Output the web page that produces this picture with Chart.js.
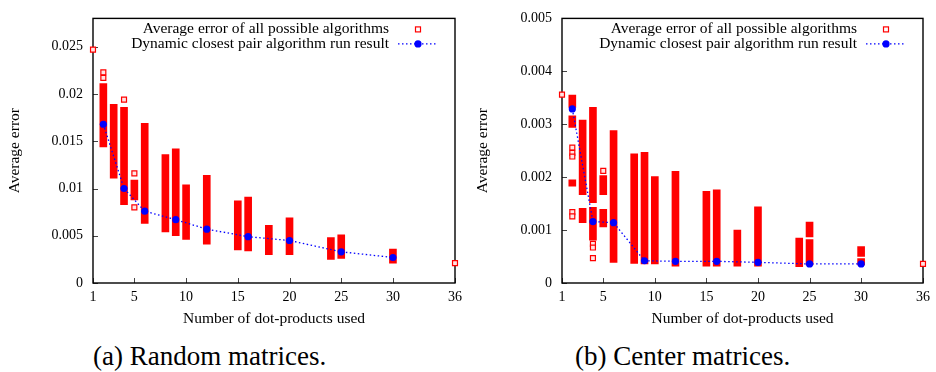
<!DOCTYPE html>
<html><head><meta charset="utf-8">
<script src="https://cdn.jsdelivr.net/npm/chart.js@4.4.1/dist/chart.umd.min.js"></script>
<style>
html,body{margin:0;padding:0;background:#fff;width:936px;height:372px;overflow:hidden;position:relative}
canvas{position:absolute;top:0}
#c1{left:0}
#c2{left:468px}
.cap{position:absolute;top:342px;font-family:"Liberation Serif",serif;font-size:27px;line-height:28px;color:#000;white-space:nowrap}
</style></head><body>
<canvas id="c1" width="468" height="340"></canvas>
<canvas id="c2" width="468" height="340"></canvas>
<div class="cap" style="left:93px">(a) Random matrices.</div>
<div class="cap" style="left:575px">(b) Center matrices.</div>
<script>
// ---- shared axis data ----
const xTicks = [1, 5, 10, 15, 20, 25, 30, 36];
const seriesNames = ['Average error of all possible algorithms', 'Dynamic closest pair algorithm run result'];
const xTitle = 'Number of dot-products used';
const yTitle = 'Average error';

// ---- (a) Random matrices ----
const randomYTicks = [0, 0.005, 0.01, 0.015, 0.02, 0.025];
// [x, low, high] ranges of dense clusters of algorithm errors
const randomColumns = [
  [2, 0.0144, 0.0211], [3, 0.0111, 0.0189], [4, 0.0083, 0.0186], [5, 0.0088, 0.0109],
  [6, 0.0063, 0.0169], [8, 0.0054, 0.0136], [9, 0.0050, 0.0142], [10, 0.0046, 0.0104],
  [12, 0.0041, 0.0114], [15, 0.0035, 0.0087], [16, 0.0034, 0.0091], [18, 0.0030, 0.0061],
  [20, 0.0030, 0.0069], [24, 0.0025, 0.0048], [25, 0.0026, 0.0051], [30, 0.0021, 0.0036]
];
// [x, value] isolated algorithm errors
const randomSingles = [
  [1, 0.0247], [2, 0.0223], [2, 0.0217], [4, 0.0194], [5, 0.0116], [5, 0.0080], [36, 0.0021]
];
const randomDcpX = [2, 4, 6, 9, 12, 16, 20, 25, 30];
const randomDcpY = [0.0168, 0.0100, 0.0076, 0.0067, 0.0057, 0.0049, 0.0045, 0.0033, 0.0027];

// ---- (b) Center matrices ----
const centerYTicks = [0, 0.001, 0.002, 0.003, 0.004, 0.005];
const centerColumns = [
  [2, 0.00332, 0.00355], [2, 0.00294, 0.00316], [2, 0.00183, 0.00195],
  [3, 0.00167, 0.00308], [3, 0.00114, 0.00141],
  [4, 0.00152, 0.00332], [4, 0.00081, 0.00143],
  [5, 0.00167, 0.00203], [5, 0.00106, 0.00139],
  [6, 0.00039, 0.00288], [8, 0.00037, 0.00244], [9, 0.00036, 0.00247], [10, 0.00036, 0.00201],
  [12, 0.00032, 0.00211], [15, 0.00032, 0.00173], [16, 0.00032, 0.00176], [18, 0.00032, 0.00100],
  [20, 0.00032, 0.00144], [24, 0.00031, 0.00085],
  [25, 0.00087, 0.00115], [25, 0.00034, 0.00082],
  [30, 0.00050, 0.00069], [30, 0.00034, 0.00046]
];
const centerSingles = [
  [1, 0.00356], [2, 0.00256], [2, 0.00246], [2, 0.00239], [2, 0.00134], [2, 0.00126],
  [4, 0.00074], [4, 0.00067], [4, 0.00047], [5, 0.00212], [36, 0.00036]
];
const centerDcpX = [2, 4, 6, 9, 12, 16, 20, 25, 30];
const centerDcpY = [0.00329, 0.00116, 0.00114, 0.00042, 0.00041, 0.00041, 0.00039, 0.00036, 0.00036];

// ---- styles ----
const FONT = '"Liberation Serif", "Times New Roman", serif';
const RED = '#ff0000';
const BLUE = '#0000ff';

const framePlugin = {
  id: 'gnuframe',
  beforeDatasetsDraw(chart) {
    const {ctx, chartArea: a, scales} = chart;
    ctx.save();
    ctx.strokeStyle = '#444';
    ctx.lineWidth = 1;
    ctx.beginPath();
    scales.x.ticks.forEach(t => {
      const px = Math.round(scales.x.getPixelForValue(t.value)) + 0.5;
      ctx.moveTo(px, a.bottom); ctx.lineTo(px, a.bottom - 5);
    });
    scales.y.ticks.forEach(t => {
      const py = Math.round(scales.y.getPixelForValue(t.value)) + 0.5;
      ctx.moveTo(a.left, py); ctx.lineTo(a.left + 5, py);
    });
    ctx.stroke();
    ctx.strokeStyle = '#000';
    ctx.lineWidth = 1.4;
    ctx.strokeRect(a.left, a.top, a.right - a.left, a.bottom - a.top);
    ctx.restore();
  },
  afterDraw(chart) {
    const {ctx, chartArea: a} = chart;
    const ds = chart.data.datasets;
    ctx.save();
    ctx.font = '15.5px ' + FONT;
    ctx.fillStyle = '#000';
    ctx.textAlign = 'right';
    ctx.textBaseline = 'middle';
    const tx = a.right - 66, sx = a.right - 37;
    const y1 = a.top + 11, y2 = a.top + 25.5;
    ctx.fillText(ds[1].label, tx, y1);
    ctx.fillText(ds[2].label, tx, y2);
    // square symbol
    ctx.strokeStyle = RED; ctx.lineWidth = 1.2;
    ctx.strokeRect(sx - 2.5, y1 - 2.5, 5, 5);
    // dotted line with dot
    ctx.strokeStyle = BLUE; ctx.lineWidth = 1.3;
    ctx.setLineDash([1.5, 2.5]);
    ctx.beginPath(); ctx.moveTo(sx - 20, y2); ctx.lineTo(sx + 18, y2); ctx.stroke();
    ctx.setLineDash([]);
    ctx.fillStyle = BLUE;
    ctx.beginPath(); ctx.arc(sx, y2, 3.6, 0, Math.PI * 2); ctx.fill();
    ctx.restore();
  }
};

function makeChart(id, columns, singles, lineX, lineY, yMax, yTicks, yAxisWidth, padRight) {
  const tickFont = {family: FONT, size: 14};
  const titleFont = {family: FONT, size: 15.5};
  return new Chart(document.getElementById(id), {
    type: 'bar',
    data: {
      datasets: [
        {
          type: 'bar', label: 'range', order: 3,
          data: columns.map(c => ({x: c[0], y: [c[1], c[2]]})),
          backgroundColor: RED, borderWidth: 0, barThickness: 7, grouped: false
        },
        {
          type: 'scatter', label: seriesNames[0], order: 2, clip: false,
          data: singles.map(s => ({x: s[0], y: s[1]})),
          pointStyle: 'rect', radius: 3.5, borderColor: RED, backgroundColor: '#ffe4e4', borderWidth: 1.2
        },
        {
          type: 'line', label: seriesNames[1], order: 1,
          data: lineX.map((x, i) => ({x: x, y: lineY[i]})),
          borderColor: BLUE, borderWidth: 1.3, borderDash: [1.5, 2.5], fill: false, tension: 0,
          pointRadius: 3.6, pointBackgroundColor: BLUE, pointBorderWidth: 0
        }
      ]
    },
    options: {
      responsive: false, animation: false, devicePixelRatio: 1,
      layout: {padding: {top: 12, right: padRight, left: 0, bottom: 0}},
      plugins: {legend: {display: false}, tooltip: {enabled: false}},
      scales: {
        x: {
          type: 'linear', min: 1, max: 36, offset: false,
          afterBuildTicks: s => { s.ticks = xTicks.map(v => ({value: v})); },
          afterFit: s => { s.height = 57; },
          grid: {display: false, drawTicks: false, offset: false},
          border: {display: false},
          ticks: {font: tickFont, color: '#000', padding: 6, maxRotation: 0, autoSkip: false, callback: v => String(v)},
          title: {display: true, text: xTitle, font: titleFont, color: '#000', padding: {top: 0, bottom: 12}}
        },
        y: {
          type: 'linear', min: 0, max: yMax,
          afterBuildTicks: s => { s.ticks = yTicks.map(v => ({value: v})); },
          afterFit: s => { s.width = yAxisWidth; },
          grid: {display: false, drawTicks: false},
          border: {display: false},
          ticks: {font: tickFont, color: '#000', padding: 10, callback: v => String(v)},
          title: {display: true, text: yTitle, font: titleFont, color: '#000', padding: {top: 6, bottom: 0}}
        }
      }
    },
    plugins: [framePlugin]
  });
}

makeChart('c1', randomColumns, randomSingles, randomDcpX, randomDcpY, 0.028, randomYTicks, 93, 11);
makeChart('c2', centerColumns, centerSingles, centerDcpX, centerDcpY, 0.005, centerYTicks, 94, 9);
</script>
</body></html>
